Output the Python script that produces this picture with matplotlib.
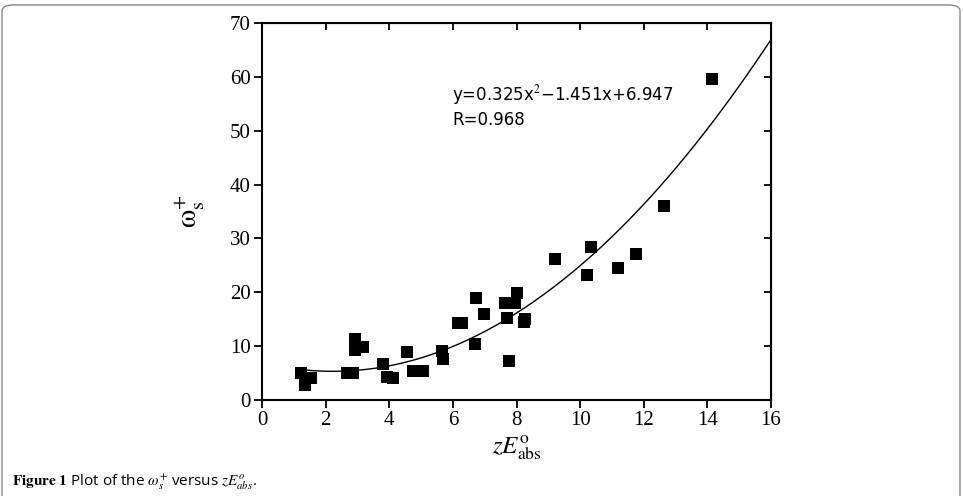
import numpy as np
import matplotlib.pyplot as plt
from matplotlib.patches import FancyBboxPatch

# data
zE = [1.23, 1.35, 1.54, 2.68, 2.85, 2.92, 2.92, 3.19, 3.81, 3.92, 4.13, 4.55,
      4.76, 5.05, 5.65, 5.68, 6.17, 6.28, 6.70, 6.73, 6.99, 7.64, 7.71, 7.77,
      7.96, 8.01, 8.24, 8.26, 9.20, 10.22, 10.35, 11.18, 11.76, 12.65, 14.13]
omega = [5.1, 2.7, 4.0, 5.0, 5.1, 11.3, 9.3, 9.8, 6.7, 4.2, 4.0, 9.0,
         5.4, 5.4, 9.1, 7.6, 14.3, 14.3, 10.4, 19.0, 15.9, 18.0, 15.2, 7.2,
         18.0, 19.9, 14.4, 15.0, 26.2, 23.3, 28.5, 24.6, 27.2, 36.0, 59.6]
coef = [0.325, -1.451, 6.947]
x_ticks = [0, 2, 4, 6, 8, 10, 12, 14, 16]
y_ticks = [0, 10, 20, 30, 40, 50, 60, 70]

plt.rcParams['mathtext.fontset'] = 'stix'
serif = 'Liberation Serif'

fig = plt.figure(figsize=(9.63, 4.96), dpi=100)
ax = fig.add_axes([262 / 963, 1 - 400 / 496, (771 - 262) / 963, (400 - 23) / 496])

ax.scatter(zE, omega, marker='s', s=80, color='black', zorder=3, linewidths=0)
xf = np.linspace(min(zE), 16, 200)
ax.plot(xf, np.polyval(coef, xf), color='black', lw=1.0)

ax.set_xlim(0, 16)
ax.set_ylim(0, 70)
ax.set_xticks(x_ticks)
ax.set_yticks(y_ticks)
ax.set_xticklabels([str(t) for t in x_ticks], family=serif, fontsize=15)
ax.set_yticklabels([str(t) for t in y_ticks], family=serif, fontsize=15)
ax.tick_params(direction='out', length=6, width=1.3, pad=2)
for s in ax.spines.values():
    s.set_linewidth(1.5)

top = ax.secondary_xaxis('top')
top.set_xticks(x_ticks)
top.tick_params(direction='in', length=5, width=1.3, labeltop=False)
right = ax.secondary_yaxis('right')
right.set_yticks(y_ticks)
right.tick_params(direction='in', length=5, width=1.3, labelright=False)

ax.set_xlabel(r'$zE^{\mathrm{o}}_{\mathrm{abs}}$', fontsize=18, labelpad=2)
ax.set_ylabel(r'$\mathrm{\omega}^{+}_{\mathrm{s}}$', fontsize=21, labelpad=16)

ax.text(5.97, 56.7, 'y=0.325x$^{2}$\u22121.451x+6.947', family='DejaVu Sans',
        fontsize=12, va='center', ha='left')
ax.text(5.97, 51.9, 'R=0.968', family='DejaVu Sans', fontsize=12, va='center', ha='left')

# journal frame and caption
frame = FancyBboxPatch((2 / 963, -0.05), 958 / 963, 1.04, boxstyle='round,pad=0,rounding_size=0.012',
                       transform=fig.transFigure, fill=False, edgecolor='#888888', lw=1.0)
fig.patches.append(frame)
fig.text(12 / 963, 4 / 496, r'$\bf{Figure\ 1}$ Plot of the $\omega^{+}_{s}$ versus $zE^{o}_{abs}$.',
         family='Open Sans', fontsize=11, va='bottom', ha='left')

fig.savefig('out.png', dpi=100)
